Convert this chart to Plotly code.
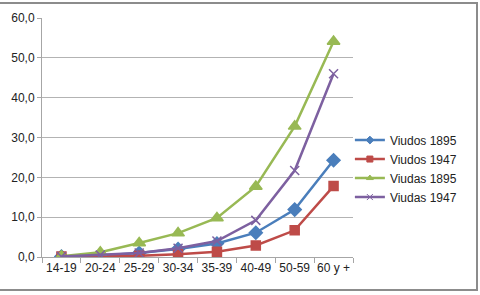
import plotly.graph_objects as go

# age groups and rates per series
age_groups = ["14-19", "20-24", "25-29", "30-34", "35-39", "40-49", "50-59", "60 y +"]
viudos_1895 = [0.1, 0.4, 1.0, 2.0, 3.4, 6.1, 11.9, 24.3]
viudos_1947 = [0.1, 0.1, 0.3, 0.7, 1.3, 2.9, 6.7, 17.8]
viudas_1895 = [0.2, 1.2, 3.5, 6.0, 9.8, 17.7, 32.8, 54.1]
viudas_1947 = [0.1, 0.5, 1.0, 2.2, 4.0, 9.2, 21.7, 46.0]

W, H = 480, 295
L, R, T, B = 42, 127, 18, 38

fig = go.Figure()

series = [
    ("Viudos 1895", viudos_1895, "#4A7EBB", "diamond", 10),
    ("Viudos 1947", viudos_1947, "#BE4B48", "square", 9),
    ("Viudas 1895", viudas_1895, "#98B954", "triangle-up", 11),
    ("Viudas 1947", viudas_1947, "#7D60A0", "x-thin", 9),
]

for name, vals, color, symbol, size in series:
    fig.add_trace(go.Scatter(
        x=age_groups, y=vals, name=name, mode="lines+markers",
        line=dict(color=color, width=2.5), showlegend=False,
        marker=dict(symbol=symbol, size=size, color=color,
                    line=dict(color=color, width=1.5)),
    ))

# legend entries with small markers, like the original
for name, vals, color, symbol, size in series:
    fig.add_trace(go.Scatter(
        x=[None], y=[None], name=name, mode="lines+markers",
        line=dict(color=color, width=2.5),
        marker=dict(symbol=symbol, size=6, color=color,
                    line=dict(color=color, width=1)),
    ))

# outer frame of the chart
pw, ph = W - L - R, H - T - B
fig.add_shape(type="rect", xref="paper", yref="paper",
              x0=(-6 - L) / pw, x1=(477 - L) / pw,
              y0=(H - B - 290) / ph, y1=(H - B - 3) / ph,
              line=dict(color="#8c8c8c", width=2), layer="below")

fig.update_layout(
    width=W, height=H,
    margin=dict(l=L, r=R, t=T, b=B, autoexpand=False),
    paper_bgcolor="white", plot_bgcolor="white",
    separators=",.",
    font=dict(family="Liberation Sans", size=12, color="#222222"),
    showlegend=True,
    legend=dict(x=0.99, y=0.55, xanchor="left", yanchor="top",
                bgcolor="rgba(0,0,0,0)", tracegroupgap=0,
                font=dict(size=12), itemwidth=30),
)

fig.update_xaxes(
    type="category", showgrid=False, showline=True, linecolor="#a6a6a6",
    ticks="outside", tickson="boundaries", ticklen=5, tickcolor="#a6a6a6",
    range=[-0.5, len(age_groups) - 0.5], tickangle=0, automargin=False,
)
fig.update_yaxes(
    range=[0, 60], dtick=10, tickformat=".1f", showgrid=True,
    gridcolor="#b3b3b3", showline=True, linecolor="#a6a6a6",
    ticks="outside", ticklen=4, tickcolor="#a6a6a6", zeroline=False,
    automargin=False,
)

# page has a default body margin; drop it so the chart sits at 0,0
fig.write_html("out.html", config={"displayModeBar": False},
               post_script="document.body.style.margin='0';")
